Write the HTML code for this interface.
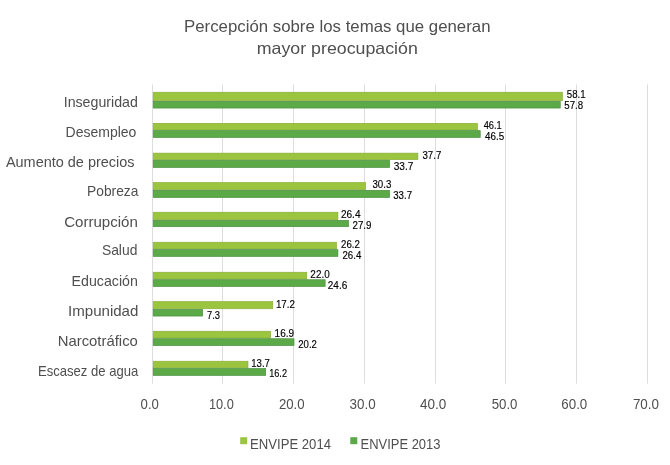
<!DOCTYPE html>
<html><head><meta charset="utf-8"><title>Percepción sobre los temas que generan mayor preocupación</title>
<style>
html,body{margin:0;padding:0;background:#fff;}
body{width:670px;height:465px;overflow:hidden;}
svg{display:block;font-family:"Liberation Sans", "DejaVu Sans", sans-serif;}
</style></head><body>
<svg width="670" height="465" viewBox="0 0 670 465">
<rect x="0" y="0" width="670" height="465" fill="#fff"/>
<rect x="152" y="84.5" width="1" height="299.2" fill="#DDDDDD"/>
<rect x="222" y="84.5" width="1" height="299.2" fill="#DDDDDD"/>
<rect x="293" y="84.5" width="1" height="299.2" fill="#DDDDDD"/>
<rect x="364" y="84.5" width="1" height="299.2" fill="#DDDDDD"/>
<rect x="435" y="84.5" width="1" height="299.2" fill="#DDDDDD"/>
<rect x="505" y="84.5" width="1" height="299.2" fill="#DDDDDD"/>
<rect x="576" y="84.5" width="1" height="299.2" fill="#DDDDDD"/>
<rect x="647" y="84.5" width="1" height="299.2" fill="#DDDDDD"/>
<rect x="153.25" y="92.25" width="409.11" height="8.40" fill="#9BC43F" stroke="#8AAE3A" stroke-width="0.7"/>
<rect x="153.25" y="101.35" width="406.98" height="6.70" fill="#5BAA47" stroke="#4A9040" stroke-width="0.7"/>
<rect x="153.25" y="123.35" width="324.13" height="6.60" fill="#9BC43F" stroke="#8AAE3A" stroke-width="0.7"/>
<rect x="153.25" y="130.65" width="326.97" height="6.80" fill="#5BAA47" stroke="#4A9040" stroke-width="0.7"/>
<rect x="153.25" y="153.15" width="264.65" height="6.40" fill="#9BC43F" stroke="#8AAE3A" stroke-width="0.7"/>
<rect x="153.25" y="160.25" width="236.33" height="7.20" fill="#5BAA47" stroke="#4A9040" stroke-width="0.7"/>
<rect x="153.25" y="182.55" width="212.25" height="7.10" fill="#9BC43F" stroke="#8AAE3A" stroke-width="0.7"/>
<rect x="153.25" y="190.35" width="236.33" height="7.10" fill="#5BAA47" stroke="#4A9040" stroke-width="0.7"/>
<rect x="153.25" y="212.25" width="184.64" height="7.40" fill="#9BC43F" stroke="#8AAE3A" stroke-width="0.7"/>
<rect x="153.25" y="220.35" width="195.26" height="6.30" fill="#5BAA47" stroke="#4A9040" stroke-width="0.7"/>
<rect x="153.25" y="242.25" width="183.22" height="6.70" fill="#9BC43F" stroke="#8AAE3A" stroke-width="0.7"/>
<rect x="153.25" y="249.65" width="184.64" height="6.70" fill="#5BAA47" stroke="#4A9040" stroke-width="0.7"/>
<rect x="153.25" y="272.25" width="153.48" height="6.80" fill="#9BC43F" stroke="#8AAE3A" stroke-width="0.7"/>
<rect x="153.25" y="279.75" width="171.89" height="6.70" fill="#5BAA47" stroke="#4A9040" stroke-width="0.7"/>
<rect x="153.25" y="301.65" width="119.49" height="7.10" fill="#9BC43F" stroke="#8AAE3A" stroke-width="0.7"/>
<rect x="153.25" y="309.45" width="49.39" height="6.60" fill="#5BAA47" stroke="#4A9040" stroke-width="0.7"/>
<rect x="153.25" y="331.25" width="117.37" height="6.80" fill="#9BC43F" stroke="#8AAE3A" stroke-width="0.7"/>
<rect x="153.25" y="338.75" width="140.74" height="6.80" fill="#5BAA47" stroke="#4A9040" stroke-width="0.7"/>
<rect x="153.25" y="361.25" width="94.71" height="6.60" fill="#9BC43F" stroke="#8AAE3A" stroke-width="0.7"/>
<rect x="153.25" y="368.55" width="112.41" height="6.80" fill="#5BAA47" stroke="#4A9040" stroke-width="0.7"/>
<text x="184.00" y="32.00" font-size="16.5" fill="#4F4F4F" textLength="306.50" lengthAdjust="spacingAndGlyphs">Percepción sobre los temas que generan</text>
<text x="256.80" y="54.00" font-size="16.5" fill="#4F4F4F" textLength="161.00" lengthAdjust="spacingAndGlyphs">mayor preocupación</text>
<text x="63.70" y="107.30" font-size="15" fill="#4F4F4F" textLength="74.20" lengthAdjust="spacingAndGlyphs">Inseguridad</text>
<text x="65.60" y="137.20" font-size="15" fill="#4F4F4F" textLength="70.80" lengthAdjust="spacingAndGlyphs">Desempleo</text>
<text x="5.90" y="167.00" font-size="15" fill="#4F4F4F" textLength="128.70" lengthAdjust="spacingAndGlyphs">Aumento de precios</text>
<text x="87.10" y="196.40" font-size="15" fill="#4F4F4F" textLength="51.30" lengthAdjust="spacingAndGlyphs">Pobreza</text>
<text x="64.20" y="226.70" font-size="15" fill="#4F4F4F" textLength="73.70" lengthAdjust="spacingAndGlyphs">Corrupción</text>
<text x="101.90" y="255.30" font-size="15" fill="#4F4F4F" textLength="35.50" lengthAdjust="spacingAndGlyphs">Salud</text>
<text x="71.60" y="286.00" font-size="15" fill="#4F4F4F" textLength="66.30" lengthAdjust="spacingAndGlyphs">Educación</text>
<text x="68.00" y="315.80" font-size="15" fill="#4F4F4F" textLength="70.40" lengthAdjust="spacingAndGlyphs">Impunidad</text>
<text x="57.70" y="346.30" font-size="15" fill="#4F4F4F" textLength="80.20" lengthAdjust="spacingAndGlyphs">Narcotráfico</text>
<text x="37.90" y="375.80" font-size="15" fill="#4F4F4F" textLength="100.50" lengthAdjust="spacingAndGlyphs">Escasez de agua</text>
<text x="140.60" y="409.00" font-size="14.5" fill="#4F4F4F" textLength="18.30" lengthAdjust="spacingAndGlyphs">0.0</text>
<text x="208.90" y="409.00" font-size="14.5" fill="#4F4F4F" textLength="24.90" lengthAdjust="spacingAndGlyphs">10.0</text>
<text x="278.90" y="409.00" font-size="14.5" fill="#4F4F4F" textLength="25.70" lengthAdjust="spacingAndGlyphs">20.0</text>
<text x="349.50" y="409.00" font-size="14.5" fill="#4F4F4F" textLength="26.10" lengthAdjust="spacingAndGlyphs">30.0</text>
<text x="420.00" y="409.00" font-size="14.5" fill="#4F4F4F" textLength="26.30" lengthAdjust="spacingAndGlyphs">40.0</text>
<text x="491.70" y="409.00" font-size="14.5" fill="#4F4F4F" textLength="25.80" lengthAdjust="spacingAndGlyphs">50.0</text>
<text x="561.30" y="409.00" font-size="14.5" fill="#4F4F4F" textLength="26.00" lengthAdjust="spacingAndGlyphs">60.0</text>
<text x="632.90" y="409.00" font-size="14.5" fill="#4F4F4F" textLength="26.10" lengthAdjust="spacingAndGlyphs">70.0</text>
<text x="566.79" y="98.30" font-size="11" fill="#000" stroke="#000" stroke-width="0.15" textLength="18.84" lengthAdjust="spacingAndGlyphs">58.1</text>
<text x="564.34" y="109.20" font-size="11" fill="#000" stroke="#000" stroke-width="0.15" textLength="18.84" lengthAdjust="spacingAndGlyphs">57.8</text>
<text x="483.73" y="128.80" font-size="11" fill="#000" stroke="#000" stroke-width="0.15" textLength="18.04" lengthAdjust="spacingAndGlyphs">46.1</text>
<text x="484.97" y="140.00" font-size="11" fill="#000" stroke="#000" stroke-width="0.15" textLength="19.16" lengthAdjust="spacingAndGlyphs">46.5</text>
<text x="422.49" y="159.20" font-size="11" fill="#000" stroke="#000" stroke-width="0.15" textLength="18.84" lengthAdjust="spacingAndGlyphs">37.7</text>
<text x="393.69" y="170.40" font-size="11" fill="#000" stroke="#000" stroke-width="0.15" textLength="19.64" lengthAdjust="spacingAndGlyphs">33.7</text>
<text x="372.49" y="188.40" font-size="11" fill="#000" stroke="#000" stroke-width="0.15" textLength="18.84" lengthAdjust="spacingAndGlyphs">30.3</text>
<text x="393.21" y="199.20" font-size="11" fill="#000" stroke="#000" stroke-width="0.15" textLength="18.84" lengthAdjust="spacingAndGlyphs">33.7</text>
<text x="340.88" y="217.80" font-size="11" fill="#000" stroke="#000" stroke-width="0.15" textLength="19.64" lengthAdjust="spacingAndGlyphs">26.4</text>
<text x="352.46" y="228.90" font-size="11" fill="#000" stroke="#000" stroke-width="0.15" textLength="19.00" lengthAdjust="spacingAndGlyphs">27.9</text>
<text x="341.06" y="247.80" font-size="11" fill="#000" stroke="#000" stroke-width="0.15" textLength="18.84" lengthAdjust="spacingAndGlyphs">26.2</text>
<text x="342.48" y="258.50" font-size="11" fill="#000" stroke="#000" stroke-width="0.15" textLength="18.84" lengthAdjust="spacingAndGlyphs">26.4</text>
<text x="310.36" y="277.80" font-size="11" fill="#000" stroke="#000" stroke-width="0.15" textLength="19.32" lengthAdjust="spacingAndGlyphs">22.0</text>
<text x="327.81" y="288.70" font-size="11" fill="#000" stroke="#000" stroke-width="0.15" textLength="19.48" lengthAdjust="spacingAndGlyphs">24.6</text>
<text x="275.89" y="307.80" font-size="11" fill="#000" stroke="#000" stroke-width="0.15" textLength="19.16" lengthAdjust="spacingAndGlyphs">17.2</text>
<text x="207.07" y="319.00" font-size="11" fill="#000" stroke="#000" stroke-width="0.15" textLength="13.00" lengthAdjust="spacingAndGlyphs">7.3</text>
<text x="274.57" y="336.90" font-size="11" fill="#000" stroke="#000" stroke-width="0.15" textLength="19.48" lengthAdjust="spacingAndGlyphs">16.9</text>
<text x="298.26" y="347.60" font-size="11" fill="#000" stroke="#000" stroke-width="0.15" textLength="18.68" lengthAdjust="spacingAndGlyphs">20.2</text>
<text x="251.27" y="367.20" font-size="11" fill="#000" stroke="#000" stroke-width="0.15" textLength="18.68" lengthAdjust="spacingAndGlyphs">13.7</text>
<text x="269.13" y="377.30" font-size="11" fill="#000" stroke="#000" stroke-width="0.15" textLength="17.88" lengthAdjust="spacingAndGlyphs">16.2</text>
<rect x="240.2" y="437.2" width="7" height="7" fill="#9BC43F"/>
<rect x="350.3" y="437.2" width="7" height="7" fill="#5BAA47"/>
<text x="250.00" y="448.70" font-size="15" fill="#4F4F4F" textLength="81.00" lengthAdjust="spacingAndGlyphs">ENVIPE 2014</text>
<text x="360.50" y="448.70" font-size="15" fill="#4F4F4F" textLength="80.00" lengthAdjust="spacingAndGlyphs">ENVIPE 2013</text>
</svg>
</body></html>
